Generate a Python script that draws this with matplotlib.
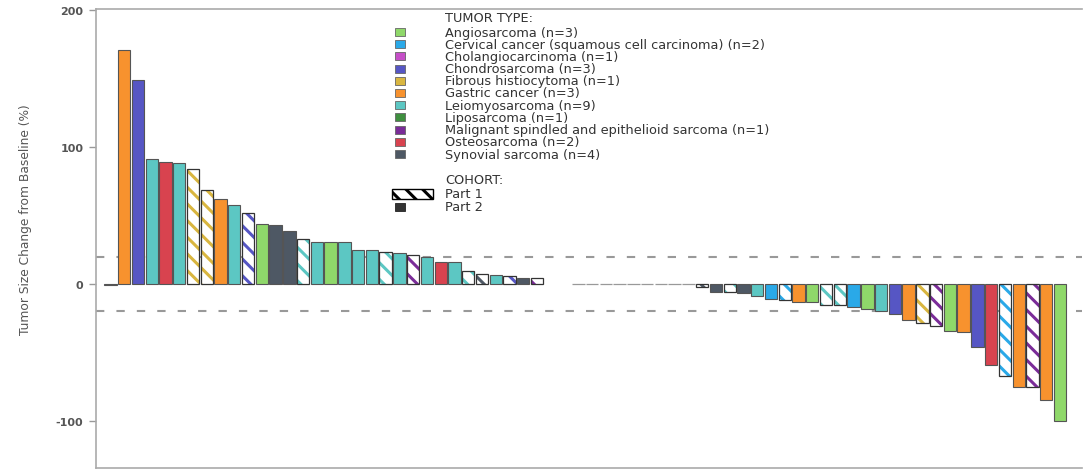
import numpy as np
import matplotlib.pyplot as plt
from matplotlib.patches import Rectangle

plt.rcParams['font.family'] = ['DejaVu Sans']
plt.rcParams['hatch.linewidth'] = 2.2
plt.rcParams['axes.unicode_minus'] = False

# Best percent change per patient, sorted as in the waterfall
change = [-1.0, 171, 149, 91.5, 89, 88.5, 84, 68.5, 62, 57.5,
          52, 44, 43, 39, 33, 30.5, 30.5, 30.5, 25, 24.5,
          23, 22.5, 21, 19.5, 16, 16, 9.5, 7.5, 6.5, 5.5,
          4.5, 4.5, np.nan, np.nan, 0, 0, 0, 0, 0, 0,
          0, 0, 0, -2, -6, -6, -6.5, -9, -11, -11.5,
          -13.5, -13.5, -15, -15, -17, -18, -19.5, -22, -26, -28.5,
          -30.5, -34, -35, -46, -59, -67, -75, -75.5, -84.5, -100]

tumor = ['Chondro', 'Gastric', 'Chondro', 'Leio', 'Osteo', 'Leio', 'Fibrous', 'Fibrous', 'Gastric', 'Leio',
         'Chondro', 'Angio', 'Synovial', 'Synovial', 'Leio', 'Leio', 'Angio', 'Leio', 'Leio', 'Leio',
         'Leio', 'Leio', 'Malignant', 'Leio', 'Osteo', 'Leio', 'Leio', 'Synovial', 'Leio', 'Chondro',
         'Synovial', 'Malignant', 'Leio', 'Leio', 'Cholangio', 'Lipo', 'Leio', 'Leio', 'Angio', 'Leio',
         'Leio', 'Gastric', 'Leio', 'Synovial', 'Synovial', 'Leio', 'Synovial', 'Leio', 'Cervical', 'Cervical',
         'Gastric', 'Angio', 'Leio', 'Leio', 'Cervical', 'Angio', 'Leio', 'Chondro', 'Gastric', 'Fibrous',
         'Malignant', 'Angio', 'Gastric', 'Chondro', 'Osteo', 'Cervical', 'Gastric', 'Malignant', 'Gastric', 'Angio']

cohort = [2, 2, 2, 2, 2, 2, 1, 1, 2, 2,
          1, 2, 2, 2, 1, 2, 2, 2, 2, 2,
          1, 2, 1, 2, 2, 2, 1, 1, 2, 1,
          2, 1, 2, 2, 2, 2, 2, 2, 2, 2,
          2, 2, 2, 1, 2, 1, 2, 2, 2, 1,
          2, 2, 1, 1, 2, 2, 2, 2, 2, 1,
          1, 2, 2, 2, 2, 1, 2, 1, 2, 2]

tumor_keys = ['Angio', 'Cervical', 'Cholangio', 'Chondro', 'Fibrous', 'Gastric',
              'Leio', 'Lipo', 'Malignant', 'Osteo', 'Synovial']
tumor_labels = ['Angiosarcoma (n=3)',
                'Cervical cancer (squamous cell carcinoma) (n=2)',
                'Cholangiocarcinoma (n=1)',
                'Chondrosarcoma (n=3)',
                'Fibrous histiocytoma (n=1)',
                'Gastric cancer (n=3)',
                'Leiomyosarcoma (n=9)',
                'Liposarcoma (n=1)',
                'Malignant spindled and epithelioid sarcoma (n=1)',
                'Osteosarcoma (n=2)',
                'Synovial sarcoma (n=4)']

colors = {'Angio': '#8fd86a', 'Cervical': '#2aa9e8', 'Cholangio': '#c64fc8',
          'Chondro': '#5656c4', 'Fibrous': '#d9b640', 'Gastric': '#f7922e',
          'Leio': '#5cc7c3', 'Lipo': '#3f8f3f', 'Malignant': '#7a2c98',
          'Osteo': '#d8434f', 'Synovial': '#4e5864'}

W, H = 1089, 477
fig = plt.figure(figsize=(W / 100, H / 100), dpi=100)
ax = fig.add_axes([96 / W, 1 - 469 / H, (1082 - 96) / W, (469 - 9.5) / H])

x = np.arange(len(change))
vals = np.array(change, dtype=float)
bw = 0.9
for i in x:
    c = colors[tumor[i]]
    if np.isnan(vals[i]):
        continue
    if vals[i] == 0:
        ax.bar(i, 0, bw, color='none', edgecolor='#999999', linewidth=0.9, zorder=2)
    elif cohort[i] == 1:
        ax.bar(i, vals[i], bw, color='white', edgecolor=c, hatch='\\\\', linewidth=0, zorder=2)
        ax.bar(i, vals[i], bw, fill=False, edgecolor='#333333', linewidth=0.9, zorder=2)
    else:
        ax.bar(i, vals[i], bw, color=c, edgecolor='#555555', linewidth=0.8, zorder=2)

# +/-20% response thresholds, behind the bars
for yv in (20, -20):
    ax.axhline(yv, color='#999999', linewidth=1.5, dashes=(4, 5.8), zorder=1)

ax.set_xlim(-1.05, 70.6)
ax.set_ylim(-134.3, 201)
ax.set_yticks([-100, 0, 100, 200])
ax.set_xticks([])
ax.tick_params(axis='y', direction='out', length=5, width=1, color='#999999',
               labelsize=8, labelcolor='#555555', pad=4)
for t in ax.get_yticklabels():
    t.set_fontweight('bold')
for s in ['left', 'bottom', 'top']:
    ax.spines[s].set_color('#aaaaaa')
    ax.spines[s].set_linewidth(1.2)
ax.spines['right'].set_visible(False)
ax.set_ylabel('Tumor Size Change from Baseline (%)', fontsize=8.8, color='#555555')
ax.yaxis.set_label_coords(-0.065, 0.542)


# legend drawn in pixel positions on the figure
def px(xp, yp):
    return xp / W, 1 - yp / H


fs = 9.3
tx = 445
fig.text(*px(tx, 18), 'TUMOR TYPE:', fontsize=fs, color='#333333', va='center')
for j, (k, lab) in enumerate(zip(tumor_keys, tumor_labels)):
    yc = 33 + 12.2 * j
    fig.patches.append(Rectangle(px(395, yc + 4), 10 / W, 8 / H, transform=fig.transFigure,
                                 facecolor=colors[k], edgecolor='#666666', linewidth=0.6))
    fig.text(*px(tx, yc), lab, fontsize=fs, color='#333333', va='center')

fig.text(*px(tx, 181), 'COHORT:', fontsize=fs, color='#333333', va='center')
fig.patches.append(Rectangle(px(392, 199.5), 41 / W, 10 / H, transform=fig.transFigure,
                             facecolor='white', edgecolor='black', hatch='\\\\', linewidth=1.0))
fig.text(*px(tx, 194.5), 'Part 1', fontsize=fs, color='#333333', va='center')
fig.patches.append(Rectangle(px(395, 211.5), 10 / W, 8 / H, transform=fig.transFigure,
                             facecolor='#333333', edgecolor='#222222', linewidth=0.6))
fig.text(*px(tx, 207.5), 'Part 2', fontsize=fs, color='#333333', va='center')

fig.savefig('out.png', dpi=100)
